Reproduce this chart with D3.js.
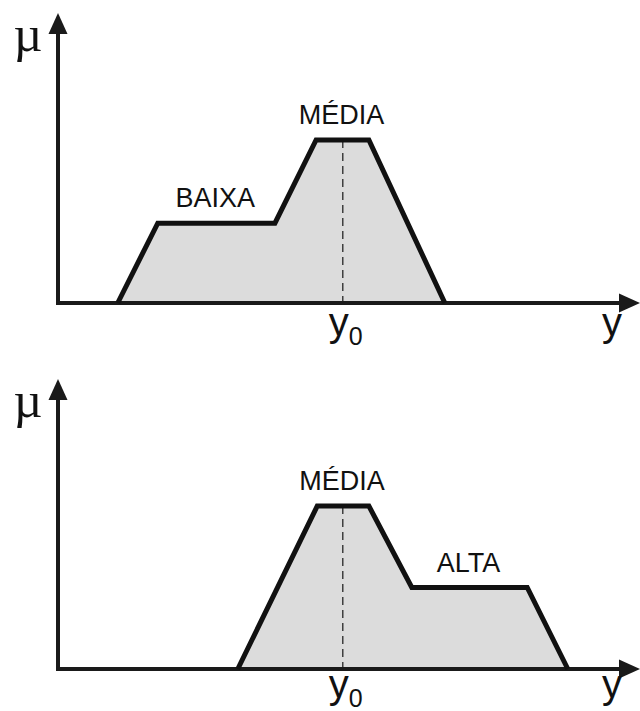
<!DOCTYPE html>
<html>
<head>
<meta charset="utf-8">
<script src="https://cdn.jsdelivr.net/npm/d3@7"></script>
<style>
  html, body { margin: 0; padding: 0; background: #fff; }
  svg { display: block; }
</style>
</head>
<body>
<div id="chart"></div>
<script>
// membership function breakpoints (x in universe units, mu in [0,1])
const topX = [10.3, 17.2, 37.4, 44.5, 53.6, 66.7];
const topMu = [0, 0.49, 0.49, 1, 1, 0];
const topLabels = ['BAIXA', 'MÉDIA'];
const topLabelAt = [1, 3]; // index where each plateau starts

const bottomX = [31.0, 44.7, 53.6, 61.0, 80.9, 87.9];
const bottomMu = [0, 1, 1, 0.5, 0.5, 0];
const bottomLabels = ['MÉDIA', 'ALTA'];
const bottomLabelAt = [1, 3];

const y0Value = 49.1;

const width = 640, height = 711;

const svg = d3.select('#chart')
  .append('svg')
  .attr('width', width)
  .attr('height', height);

const x = d3.scaleLinear().domain([0, 100]).range([0, 580]);
const mu = d3.scaleLinear().domain([0, 1]).range([0, -163]);

const sans = '"Liberation Sans", Arial, sans-serif';
const narrow = '"Liberation Sans Narrow", "Arial Narrow", "Liberation Sans", sans-serif';

function drawPanel(ox, oy, xs, mus, labels, labelAt, tickY) {
  const g = svg.append('g').attr('transform', `translate(${ox},${oy})`);
  const pts = xs.map((v, i) => ({ x: v, mu: mus[i] }));

  // shaded area
  g.append('path')
    .datum(pts)
    .attr('d', d3.area().x(d => x(d.x)).y0(mu(0)).y1(d => mu(d.mu)))
    .attr('fill', '#dcdcdc');

  // y0 dashed line
  const peak = d3.max(mus);
  g.append('line')
    .attr('x1', x(y0Value)).attr('x2', x(y0Value))
    .attr('y1', mu(peak)).attr('y2', mu(0))
    .attr('stroke', '#333')
    .attr('stroke-width', 1.4)
    .attr('stroke-dasharray', '8,5');

  // axes
  const axisColor = '#1a1a1a';
  g.append('path')
    .attr('d', `M0,${mu(0)}H562M0,${mu(0)}V-272`)
    .attr('fill', 'none')
    .attr('stroke', axisColor)
    .attr('stroke-width', 4)
    .attr('stroke-linecap', 'square');
  g.append('path')
    .attr('d', 'M582,0L561,-9.5L561,9.5Z')
    .attr('fill', axisColor);
  g.append('path')
    .attr('d', 'M0,-290L-9.5,-269L9.5,-269Z')
    .attr('fill', axisColor);

  // membership outline
  g.append('path')
    .datum(pts)
    .attr('d', d3.line().x(d => x(d.x)).y(d => mu(d.mu)))
    .attr('fill', 'none')
    .attr('stroke', '#111')
    .attr('stroke-width', 5)
    .attr('stroke-linejoin', 'miter');

  // set labels centred over each plateau
  g.selectAll('text.set')
    .data(labels)
    .join('text')
    .attr('class', 'set')
    .attr('x', (d, i) => (x(xs[labelAt[i]]) + x(xs[labelAt[i] + 1])) / 2 - 1)
    .attr('y', (d, i) => mu(mus[labelAt[i]]) - 16)
    .attr('text-anchor', 'middle')
    .attr('font-family', sans)
    .attr('font-size', 27)
    .attr('fill', '#111')
    .text(d => d);

  // y0 tick label
  const t = g.append('text')
    .attr('x', x(y0Value) + 3)
    .attr('y', tickY)
    .attr('text-anchor', 'middle')
    .attr('font-family', narrow)
    .attr('font-size', 40)
    .attr('fill', '#111');
  t.append('tspan').text('y');
  t.append('tspan').attr('font-size', 25).attr('dy', 9).text('0');

  // axis names
  g.append('text')
    .attr('x', 554)
    .attr('y', tickY)
    .attr('text-anchor', 'middle')
    .attr('font-family', narrow)
    .attr('font-size', 40)
    .attr('fill', '#111')
    .text('y');
  g.append('text')
    .attr('x', -30)
    .attr('y', -252)
    .attr('text-anchor', 'middle')
    .attr('font-family', '"Liberation Serif", "Times New Roman", serif')
    .attr('font-size', 50)
    .attr('fill', '#111')
    .text('µ');
}

drawPanel(58, 303, topX, topMu, topLabels, topLabelAt, 33);
drawPanel(58, 669, bottomX, bottomMu, bottomLabels, bottomLabelAt, 29);
</script>
</body>
</html>
